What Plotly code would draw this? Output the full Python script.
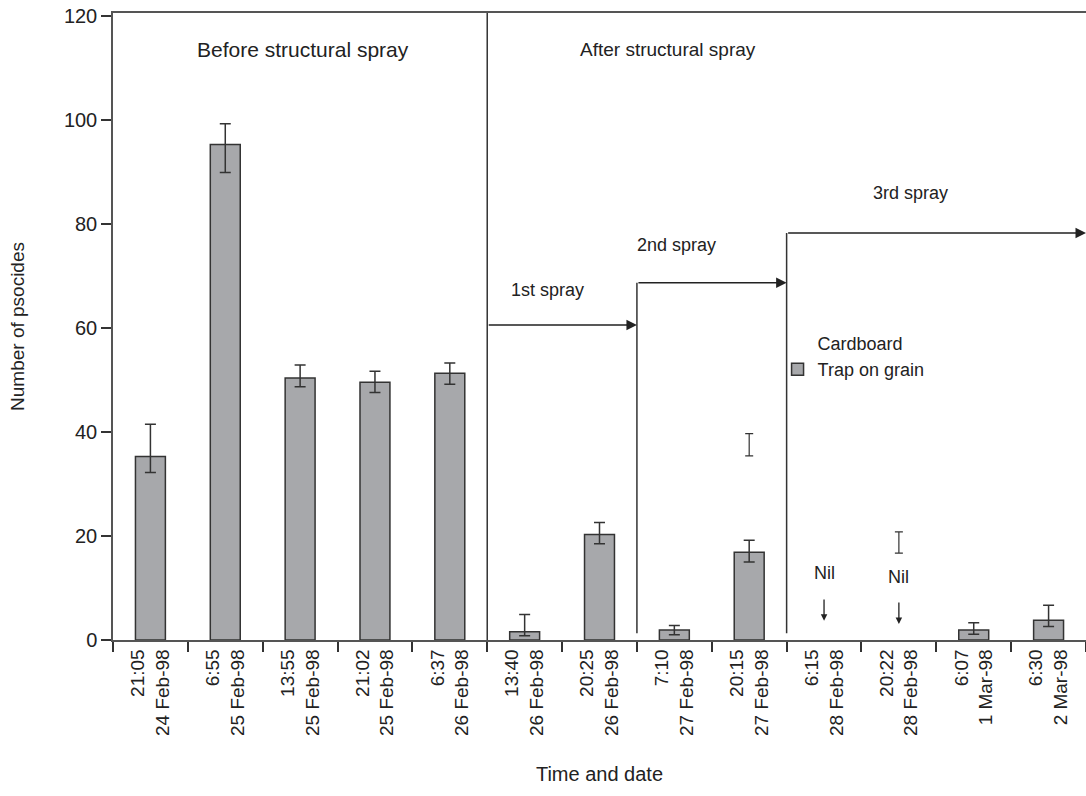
import plotly.graph_objects as go

# ---------------- data ----------------
times = ["21:05", "6:55", "13:55", "21:02", "6:37", "13:40", "20:25",
         "7:10", "20:15", "6:15", "20:22", "6:07", "6:30"]
dates = ["24 Feb-98", "25 Feb-98", "25 Feb-98", "25 Feb-98", "26 Feb-98",
         "26 Feb-98", "26 Feb-98", "27 Feb-98", "27 Feb-98", "28 Feb-98",
         "28 Feb-98", "1 Mar-98", "2 Mar-98"]

# Trap on grain (mean and error-bar limits); None = Nil
trap_mean  = [35.3, 95.3, 50.4, 49.6, 51.3, 1.6, 20.3, 1.9, 16.9, None, None, 1.9, 3.8]
trap_upper = [41.5, 99.3, 52.9, 51.7, 53.3, 4.9, 22.6, 2.8, 19.2, None, None, 3.3, 6.7]
trap_lower = [32.2, 89.9, 48.7, 47.6, 49.2, 0.8, 18.5, 1.0, 15.0, None, None, 1.1, 2.6]

# Cardboard (only error-bar limits visible)
card_upper = [None, None, None, None, None, None, None, None, 39.7, None, 20.8, None, None]
card_lower = [None, None, None, None, None, None, None, None, 35.4, None, 16.7, None, None]

nil_index = [9, 10]
nil_label_y = [12.9, 12.2]
nil_arrow_top = [8.1, 7.5]
nil_arrow_tip = [3.7, 3.1]

# spray periods: boundary position (between categories) and arrow level
spray_names = ["1st spray", "2nd spray", "3rd spray"]
spray_start = [4.5, 6.5, 8.5]
spray_end = [6.5, 8.5, 12.5]
spray_level = [60.6, 68.7, 78.3]
spray_label_x = [5.31, 7.03, 10.15]
spray_label_y = [67.3, 76.0, 86.0]

# ---------------- build ----------------
cats = [f"{t}<br>{d}" for t, d in zip(times, dates)]

def plus(m, u):
    return [None if (a is None or b is None) else b - a for a, b in zip(m, u)]

def minus(m, l):
    return [None if (a is None or b is None) else a - b for a, b in zip(m, l)]

card_mid = [None if u is None else (u + l) / 2 for u, l in zip(card_upper, card_lower)]
card_half = [None if u is None else (u - l) / 2 for u, l in zip(card_upper, card_lower)]

FONT = "Liberation Sans, Arial, sans-serif"
TXT = "#222222"
LINE = "#333333"

fig = go.Figure()

fig.add_trace(go.Scatter(
    x=cats, y=card_mid, mode="markers", name="Cardboard",
    marker=dict(size=1, color="rgba(0,0,0,0)"),
    error_y=dict(type="data", array=card_half, symmetric=True,
                 color=LINE, thickness=1.2, width=4),
    showlegend=True,
))

fig.add_trace(go.Bar(
    x=cats, y=trap_mean, name="Trap on grain", width=0.4,
    marker=dict(color="#a7a8ab", line=dict(color=LINE, width=1.5)),
    error_y=dict(type="data", array=plus(trap_mean, trap_upper),
                 arrayminus=minus(trap_mean, trap_lower), symmetric=False,
                 color=LINE, thickness=1.5, width=5.5),
))

shapes = []
# vertical separators
shapes.append(dict(type="line", xref="x", yref="y", x0=spray_start[0], x1=spray_start[0],
                   y0=0, y1=120.6, line=dict(color=LINE, width=1.5)))
for i in (1, 2):
    shapes.append(dict(type="line", xref="x", yref="y", x0=spray_start[i], x1=spray_start[i],
                       y0=1.3, y1=spray_level[i], line=dict(color=LINE, width=1.5)))

annotations = []
for i in range(3):
    annotations.append(dict(x=spray_end[i], y=spray_level[i], ax=spray_start[i], ay=spray_level[i],
                            xref="x", yref="y", axref="x", ayref="y", text="",
                            showarrow=True, arrowhead=2, arrowsize=1.4, arrowwidth=1.5,
                            arrowcolor="#222222", standoff=0))
    annotations.append(dict(x=spray_label_x[i], y=spray_label_y[i], xref="x", yref="y",
                            text=spray_names[i], showarrow=False,
                            font=dict(size=18, color=TXT, family=FONT)))

annotations.append(dict(x=2.04, y=113.5, xref="x", yref="y", text="Before structural spray",
                        showarrow=False, font=dict(size=21, color=TXT, family=FONT)))
annotations.append(dict(x=6.92, y=113.5, xref="x", yref="y", text="After structural spray",
                        showarrow=False, font=dict(size=19, color=TXT, family=FONT)))

for k, idx in enumerate(nil_index):
    annotations.append(dict(x=idx, y=nil_label_y[k], xref="x", yref="y", text="Nil",
                            showarrow=False, font=dict(size=18, color=TXT, family=FONT)))
    annotations.append(dict(x=idx, y=nil_arrow_tip[k], ax=idx, ay=nil_arrow_top[k],
                            xref="x", yref="y", axref="x", ayref="y", text="",
                            showarrow=True, arrowhead=2, arrowsize=1, arrowwidth=1.3,
                            arrowcolor="#222222", standoff=0))

fig.update_layout(
    width=1086, height=796,
    margin=dict(l=113, r=0, t=13, b=156, autoexpand=False),
    paper_bgcolor="white", plot_bgcolor="white",
    font=dict(family=FONT, color=TXT),
    showlegend=True,
    legend=dict(x=0.683, y=0.503, xanchor="left", yanchor="top",
                bgcolor="rgba(0,0,0,0)", font=dict(size=18, color=TXT, family=FONT),
                traceorder="normal", itemclick=False),
    shapes=shapes, annotations=annotations,
    bargap=0.6,
)

fig.update_xaxes(
    type="category", categoryorder="array", categoryarray=cats,
    range=[-0.5, 12.5], tickson="boundaries", ticks="outside", ticklen=10,
    tickcolor=LINE, tickwidth=1.5, tickangle=-90,
    tickfont=dict(size=19, color=TXT, family=FONT),
    showline=True, linecolor="#555555", linewidth=1.5, mirror=True,
    showgrid=False, zeroline=False,
    title=dict(text="Time and date", font=dict(size=20, color=TXT, family=FONT), standoff=32),
    automargin=False,
)
fig.update_yaxes(
    range=[0, 120.6], tickvals=[0, 20, 40, 60, 80, 100, 120], ticks="outside", ticklen=10,
    tickcolor=LINE, tickwidth=1.5, tickfont=dict(size=20, color=TXT, family=FONT),
    showline=True, linecolor="#555555", linewidth=1.5,
    showgrid=False, zeroline=False,
    title=dict(text="Number of psocides", font=dict(size=19, color=TXT, family=FONT), standoff=34),
    automargin=False,
)

fig.write_html("out.html")
